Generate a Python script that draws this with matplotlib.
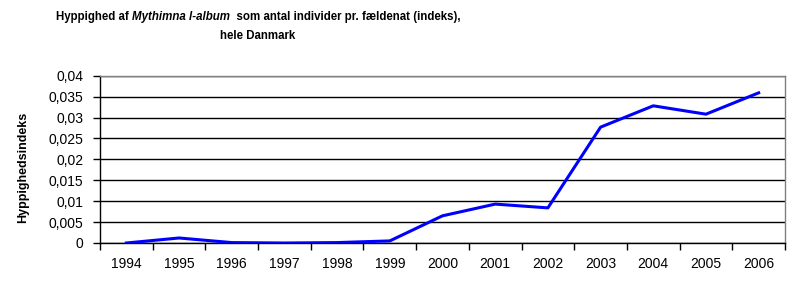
import matplotlib
matplotlib.use("Agg")
import matplotlib.pyplot as plt
from matplotlib.ticker import FixedLocator, FixedFormatter

years = ["1994", "1995", "1996", "1997", "1998", "1999", "2000",
         "2001", "2002", "2003", "2004", "2005", "2006"]
index_values = [0.0, 0.0012, 0.0001, 0.0, 0.0001, 0.0005, 0.0065,
                0.0093, 0.0084, 0.0277, 0.0328, 0.0308, 0.0359]
y_ticks = [0.0, 0.005, 0.01, 0.015, 0.02, 0.025, 0.03, 0.035, 0.04]
y_tick_labels = ["0", "0,005", "0,01", "0,015", "0,02", "0,025", "0,03", "0,035", "0,04"]

title_part1 = "Hyppighed af "
title_part2 = "Mythimna l-album"
title_part3 = "  som antal individer pr. fældenat (indeks),"
title_line2 = "hele Danmark"
y_label = "Hyppighedsindeks"

W, H = 795, 287
fig = plt.figure(figsize=(W / 100, H / 100), dpi=100)
fig.patch.set_facecolor("white")
ax = fig.add_axes([100 / W, 1 - 243 / H, 685 / W, (243 - 75.7) / H])

x = list(range(len(years)))
ax.plot(x, index_values, color="#0000FF", lw=2.2, zorder=3)

ax.set_xlim(-0.5, len(years) - 0.5)
ax.set_ylim(0, 0.04)

ax.yaxis.set_major_locator(FixedLocator(y_ticks))
ax.yaxis.set_major_formatter(FixedFormatter(y_tick_labels))
ax.grid(axis="y", color="black", lw=1.0, zorder=1)

ax.xaxis.set_major_locator(FixedLocator(x))
ax.xaxis.set_major_formatter(FixedFormatter(years))
ax.xaxis.set_minor_locator(FixedLocator([i - 0.5 for i in range(len(years) + 1)]))
ax.tick_params(axis="x", which="major", length=0, pad=10)
ax.tick_params(axis="x", which="minor", length=5, width=1, color="black", direction="out")
ax.tick_params(axis="y", which="major", length=5, width=1, color="black", direction="out", pad=7)

tick_family = ["Liberation Sans", "DejaVu Sans"]
for lab in ax.get_xticklabels() + ax.get_yticklabels():
    lab.set_fontfamily(tick_family)
    lab.set_fontsize(10)

for s in ["left", "bottom"]:
    ax.spines[s].set_color("black")
    ax.spines[s].set_linewidth(1.0)
for s in ["top", "right"]:
    ax.spines[s].set_color("#808080")
    ax.spines[s].set_linewidth(1.0)

fig.text(23 / W, 1 - 167 / H, y_label, rotation=90, ha="center", va="center",
         fontsize=9, fontweight="bold", family=["Liberation Sans", "DejaVu Sans"])

# title
tfam = ["Liberation Sans Narrow", "Liberation Sans", "DejaVu Sans"]
tsize = 8.3
renderer = fig.canvas.get_renderer()
parts = [(title_part1, "normal"), (title_part2, "italic"), (title_part3, "normal")]
texts = []
for s, st in parts:
    t = fig.text(0, 0, s, fontsize=tsize, fontweight="bold", fontstyle=st, family=tfam,
                 ha="left", va="center")
    texts.append(t)
widths = [t.get_window_extent(renderer).width for t in texts]
total = sum(widths)
cx = 258
xpos = cx - total / 2
for t, w in zip(texts, widths):
    t.set_position((xpos / W, 1 - 17 / H))
    xpos += w
fig.text(cx / W, 1 - 36 / H, title_line2, fontsize=tsize, fontweight="bold", family=tfam,
         ha="center", va="center")

fig.savefig("out.png", dpi=100)
